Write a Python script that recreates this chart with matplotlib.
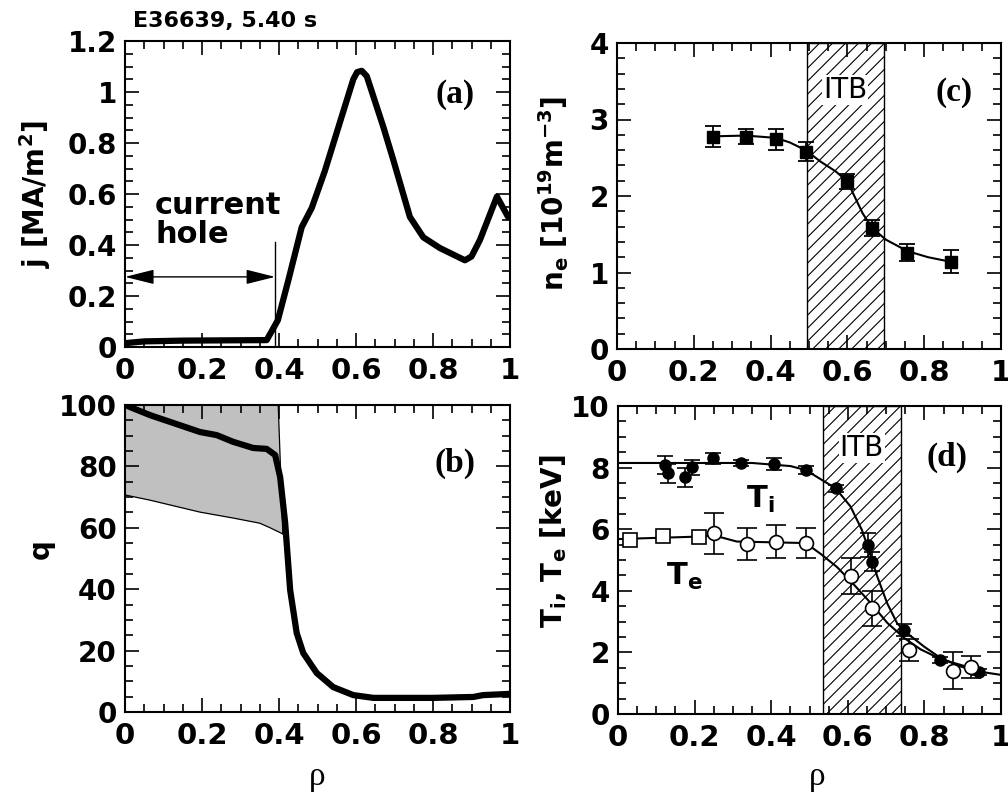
import matplotlib
matplotlib.use("Agg")
import matplotlib.pyplot as plt
import numpy as np
from matplotlib.ticker import MultipleLocator, FormatStrFormatter

plt.rcParams['font.family'] = ['DejaVu Sans']
plt.rcParams['font.weight'] = 'bold'
plt.rcParams['mathtext.default'] = 'bf'
plt.rcParams['axes.linewidth'] = 1.5

# ---- (a) current density profile ----
rho_j = [0.0, 0.05, 0.15, 0.25, 0.368, 0.397, 0.424, 0.459, 0.485, 0.519, 0.558,
         0.593, 0.603, 0.615, 0.628, 0.671, 0.697, 0.74, 0.775, 0.818, 0.883, 0.9, 0.922,
         0.966, 0.995]
j_vals = [0.015, 0.022, 0.025, 0.026, 0.027, 0.105, 0.26, 0.47, 0.545, 0.69, 0.88,
          1.05, 1.078, 1.083, 1.062, 0.863, 0.733, 0.51, 0.43, 0.388, 0.34, 0.355, 0.42,
          0.59, 0.51]
hole_edge = 0.39

# ---- (b) safety factor ----
rho_q = [0.0, 0.065, 0.195, 0.238, 0.281, 0.333, 0.368, 0.39, 0.403, 0.416, 0.429,
         0.446, 0.463, 0.498, 0.541, 0.593, 0.645, 0.8, 0.905, 0.93, 1.0]
q_vals = [100, 96.7, 91.2, 90.2, 88, 86, 85.7, 83.7, 76.5, 61.6, 39.7,
          25.7, 19.2, 12.7, 8.1, 5.5, 4.6, 4.6, 4.9, 5.5, 5.9]
band_rho_up = [0.0, 0.398, 0.41]
band_q_up = [100, 100, 58]
band_rho_lo = [0.0, 0.065, 0.195, 0.28, 0.35, 0.377, 0.41]
band_q_lo = [70.7, 69, 65.1, 63.2, 61.5, 60, 58]

# ---- (c) electron density ----
rho_ne = [0.251, 0.335, 0.413, 0.491, 0.600, 0.665, 0.756, 0.869]
ne_vals = [2.775, 2.775, 2.74, 2.58, 2.19, 1.58, 1.26, 1.14]
ne_err = [0.14, 0.1, 0.14, 0.12, 0.1, 0.1, 0.11, 0.15]
rho_ne_fit = [0.251, 0.335, 0.413, 0.45, 0.491, 0.53, 0.57, 0.6, 0.62, 0.64,
              0.665, 0.7, 0.756, 0.81, 0.869]
ne_fit = [2.78, 2.79, 2.76, 2.7, 2.6, 2.45, 2.32, 2.19, 1.98, 1.77,
          1.58, 1.43, 1.28, 1.2, 1.14]
itb_c = (0.494, 0.695)

# ---- (d) temperatures ----
rho_ti = [0.122, 0.130, 0.174, 0.194, 0.248, 0.32, 0.407, 0.49, 0.568, 0.654,
          0.664, 0.747, 0.84, 0.943]
ti_vals = [8.08, 7.81, 7.68, 8.01, 8.30, 8.16, 8.12, 7.92, 7.33, 5.49,
           4.95, 2.73, 1.75, 1.37]
ti_err = [0.3, 0.3, 0.3, 0.25, 0.17, 0.1, 0.2, 0.12, 0.12, 0.4,
          0.3, 0.2, 0.1, 0.1]
rho_ti_fit = [0.0, 0.2, 0.35, 0.45, 0.49, 0.568, 0.607, 0.637, 0.655, 0.677,
              0.703, 0.729, 0.755, 0.799, 0.843, 0.895, 0.947, 1.0]
ti_fit = [8.15, 8.15, 8.15, 8.05, 7.92, 7.33, 6.74, 5.97, 5.32, 4.46,
          3.59, 2.94, 2.62, 2.19, 1.81, 1.54, 1.37, 1.27]

rho_te_sq = [0.031, 0.118, 0.211]
te_sq = [5.65, 5.79, 5.76]
rho_te = [0.25, 0.337, 0.413, 0.492, 0.608, 0.664, 0.76, 0.874, 0.922]
te_vals = [5.87, 5.52, 5.6, 5.54, 4.48, 3.43, 2.08, 1.40, 1.52]
te_err = [0.66, 0.52, 0.54, 0.49, 0.6, 0.57, 0.35, 0.6, 0.35]
rho_te_fit = [0.0, 0.211, 0.25, 0.31, 0.49, 0.529, 0.572, 0.616, 0.66, 0.703,
              0.747, 0.79, 0.843, 0.904, 0.95]
te_fit = [5.68, 5.76, 5.8, 5.6, 5.55, 5.2, 4.77, 4.2, 3.6, 2.96,
          2.47, 2.1, 1.78, 1.56, 1.45]
itb_d = (0.534, 0.738)

W, H = 1008, 796
fig = plt.figure(figsize=(W / 100, H / 100), dpi=100)


def px_axes(left, top, right, bottom):
    return fig.add_axes([left / W, 1 - bottom / H, (right - left) / W, (bottom - top) / H])


def style(ax, ymax, ymaj, ymin):
    ax.set_xlim(0, 1)
    ax.set_ylim(0, ymax)
    ax.xaxis.set_major_locator(MultipleLocator(0.2))
    ax.xaxis.set_minor_locator(MultipleLocator(0.05))
    ax.yaxis.set_major_locator(MultipleLocator(ymaj))
    ax.yaxis.set_minor_locator(MultipleLocator(ymin))
    ax.xaxis.set_major_formatter(FormatStrFormatter('%g'))
    ax.yaxis.set_major_formatter(FormatStrFormatter('%g'))
    ax.tick_params(which='both', direction='in', top=True, right=True, width=1.2)
    ax.tick_params(which='major', length=10)
    ax.tick_params(which='minor', length=5.5)
    ax.tick_params(axis='x', labelsize=21, pad=7)
    ax.tick_params(axis='y', labelsize=20, pad=6)


def panel_tag(ax, x, y, tag):
    ax.text(x, y, tag, transform=ax.transAxes, ha='center', va='center',
            fontsize=24, fontweight='bold', family='Liberation Serif')


def ylab(ax, x, y, s):
    ax.text(x, y, s, transform=ax.transAxes, ha='center', va='center',
            rotation=90, fontsize=20, fontweight='bold')


def rho_lab(ax, x, y):
    ax.text(x, y, 'ρ', transform=ax.transAxes, ha='center', va='center',
            fontsize=24, fontweight='normal', family='Liberation Serif')


def itb(ax, span, ytxt, step_px=13):
    # band outline plus hand-drawn 45 degree hatch lines
    band = ax.axvspan(span[0], span[1], facecolor='white', edgecolor='black',
                      linewidth=1.0, zorder=0)
    to_px = ax.transData
    (x0, y0), (x1, y1) = to_px.transform([(span[0], 0), (span[1], ax.get_ylim()[1])])
    inv = to_px.inverted()
    h = y1 - y0
    for off in np.arange(x0 - h, x1 + step_px, step_px):
        pts = inv.transform([(off, y0), (off + h, y1)])
        ln, = ax.plot(pts[:, 0], pts[:, 1], color='black', lw=0.8, zorder=0.5)
        ln.set_clip_path(band)
    ax.text((span[0] + span[1]) / 2, ytxt, 'ITB', fontsize=20, fontweight='normal',
            ha='center', va='center', transform=ax.get_xaxis_transform(), zorder=1,
            bbox=dict(facecolor='white', edgecolor='none', pad=0.5))


# (a)
ax_a = px_axes(125, 41, 510, 347)
style(ax_a, 1.2, 0.2, 0.05)
ax_a.plot(rho_j, j_vals, color='black', lw=4.5, solid_joinstyle='round', solid_capstyle='round')
ax_a.plot([hole_edge, hole_edge], [0, 0.41], color='black', lw=1)
ax_a.annotate('', xy=(hole_edge, 0.275), xytext=(0, 0.275),
              arrowprops=dict(arrowstyle='<|-|>,head_length=1.2,head_width=0.3',
                              mutation_scale=15, color='black', lw=1,
                              shrinkA=0, shrinkB=0))
ax_a.text(0.078, 0.61, 'current\nhole', fontsize=22, fontweight='bold',
          ha='left', va='top', linespacing=1.0)
panel_tag(ax_a, 0.857, 0.825, '(a)')
ylab(ax_a, -0.234, 0.5, r'j [MA/m$^2$]')
fig.text(133 / W, 1 - 21 / H, 'E36639, 5.40 s', fontsize=16, fontweight='bold',
         ha='left', va='center')

# (b)
ax_b = px_axes(125, 405, 510, 712)
style(ax_b, 100, 20, 5)
band_x = band_rho_up + band_rho_lo[::-1]
band_y = band_q_up + band_q_lo[::-1]
ax_b.fill(band_x, band_y, facecolor='#c0c0c0', edgecolor='none', zorder=1)
ax_b.plot(band_rho_up, band_q_up, color='black', lw=0.9, zorder=2)
ax_b.plot(band_rho_lo, band_q_lo, color='black', lw=0.9, zorder=2)
ax_b.plot(rho_q, q_vals, color='black', lw=4.5, zorder=3,
          solid_joinstyle='round', solid_capstyle='round')
panel_tag(ax_b, 0.857, 0.81, '(b)')
ylab(ax_b, -0.22, 0.53, 'q')
rho_lab(ax_b, 0.5, -0.21)

# (c)
ax_c = px_axes(617, 43, 1001, 349)
style(ax_c, 4, 1, 0.2)
itb(ax_c, itb_c, 0.846)
ax_c.plot(rho_ne_fit, ne_fit, color='black', lw=1.5, zorder=2)
ax_c.errorbar(rho_ne, ne_vals, yerr=ne_err, fmt='s', color='black', ms=9,
              capsize=6, elinewidth=1.3, capthick=1.3, zorder=3)
panel_tag(ax_c, 0.877, 0.837, '(c)')
ylab(ax_c, -0.164, 0.51, r'n$_e$ [10$^{19}$m$^{-3}$]')

# (d)
ax_d = px_axes(618, 406, 1001, 714)
style(ax_d, 10, 2, 0.5)
itb(ax_d, itb_d, 0.863)
ax_d.plot(rho_ti_fit, ti_fit, color='black', lw=1.5, zorder=2)
ax_d.plot(rho_te_fit, te_fit, color='black', lw=1.5, zorder=2)
ax_d.errorbar(rho_ti, ti_vals, yerr=ti_err, fmt='o', color='black', ms=8,
              capsize=6, elinewidth=1.2, capthick=1.2, zorder=3)
ax_d.plot(rho_te_sq, te_sq, 's', mfc='white', mec='black', mew=1.2, ms=10, zorder=3)
ax_d.errorbar(rho_te, te_vals, yerr=te_err, fmt='o', mfc='white', mec='black',
              mew=1.2, ecolor='black', ms=10, capsize=7, elinewidth=1.2,
              capthick=1.2, zorder=3)
ax_d.text(0.372, 6.95, r'T$_i$', fontsize=22, ha='center', va='center')
ax_d.text(0.172, 4.46, r'T$_e$', fontsize=22, ha='center', va='center')
panel_tag(ax_d, 0.859, 0.834, '(d)')
ylab(ax_d, -0.167, 0.56, r'T$_i$, T$_e$ [keV]')
rho_lab(ax_d, 0.52, -0.205)

fig.savefig('out.png', dpi=100)
